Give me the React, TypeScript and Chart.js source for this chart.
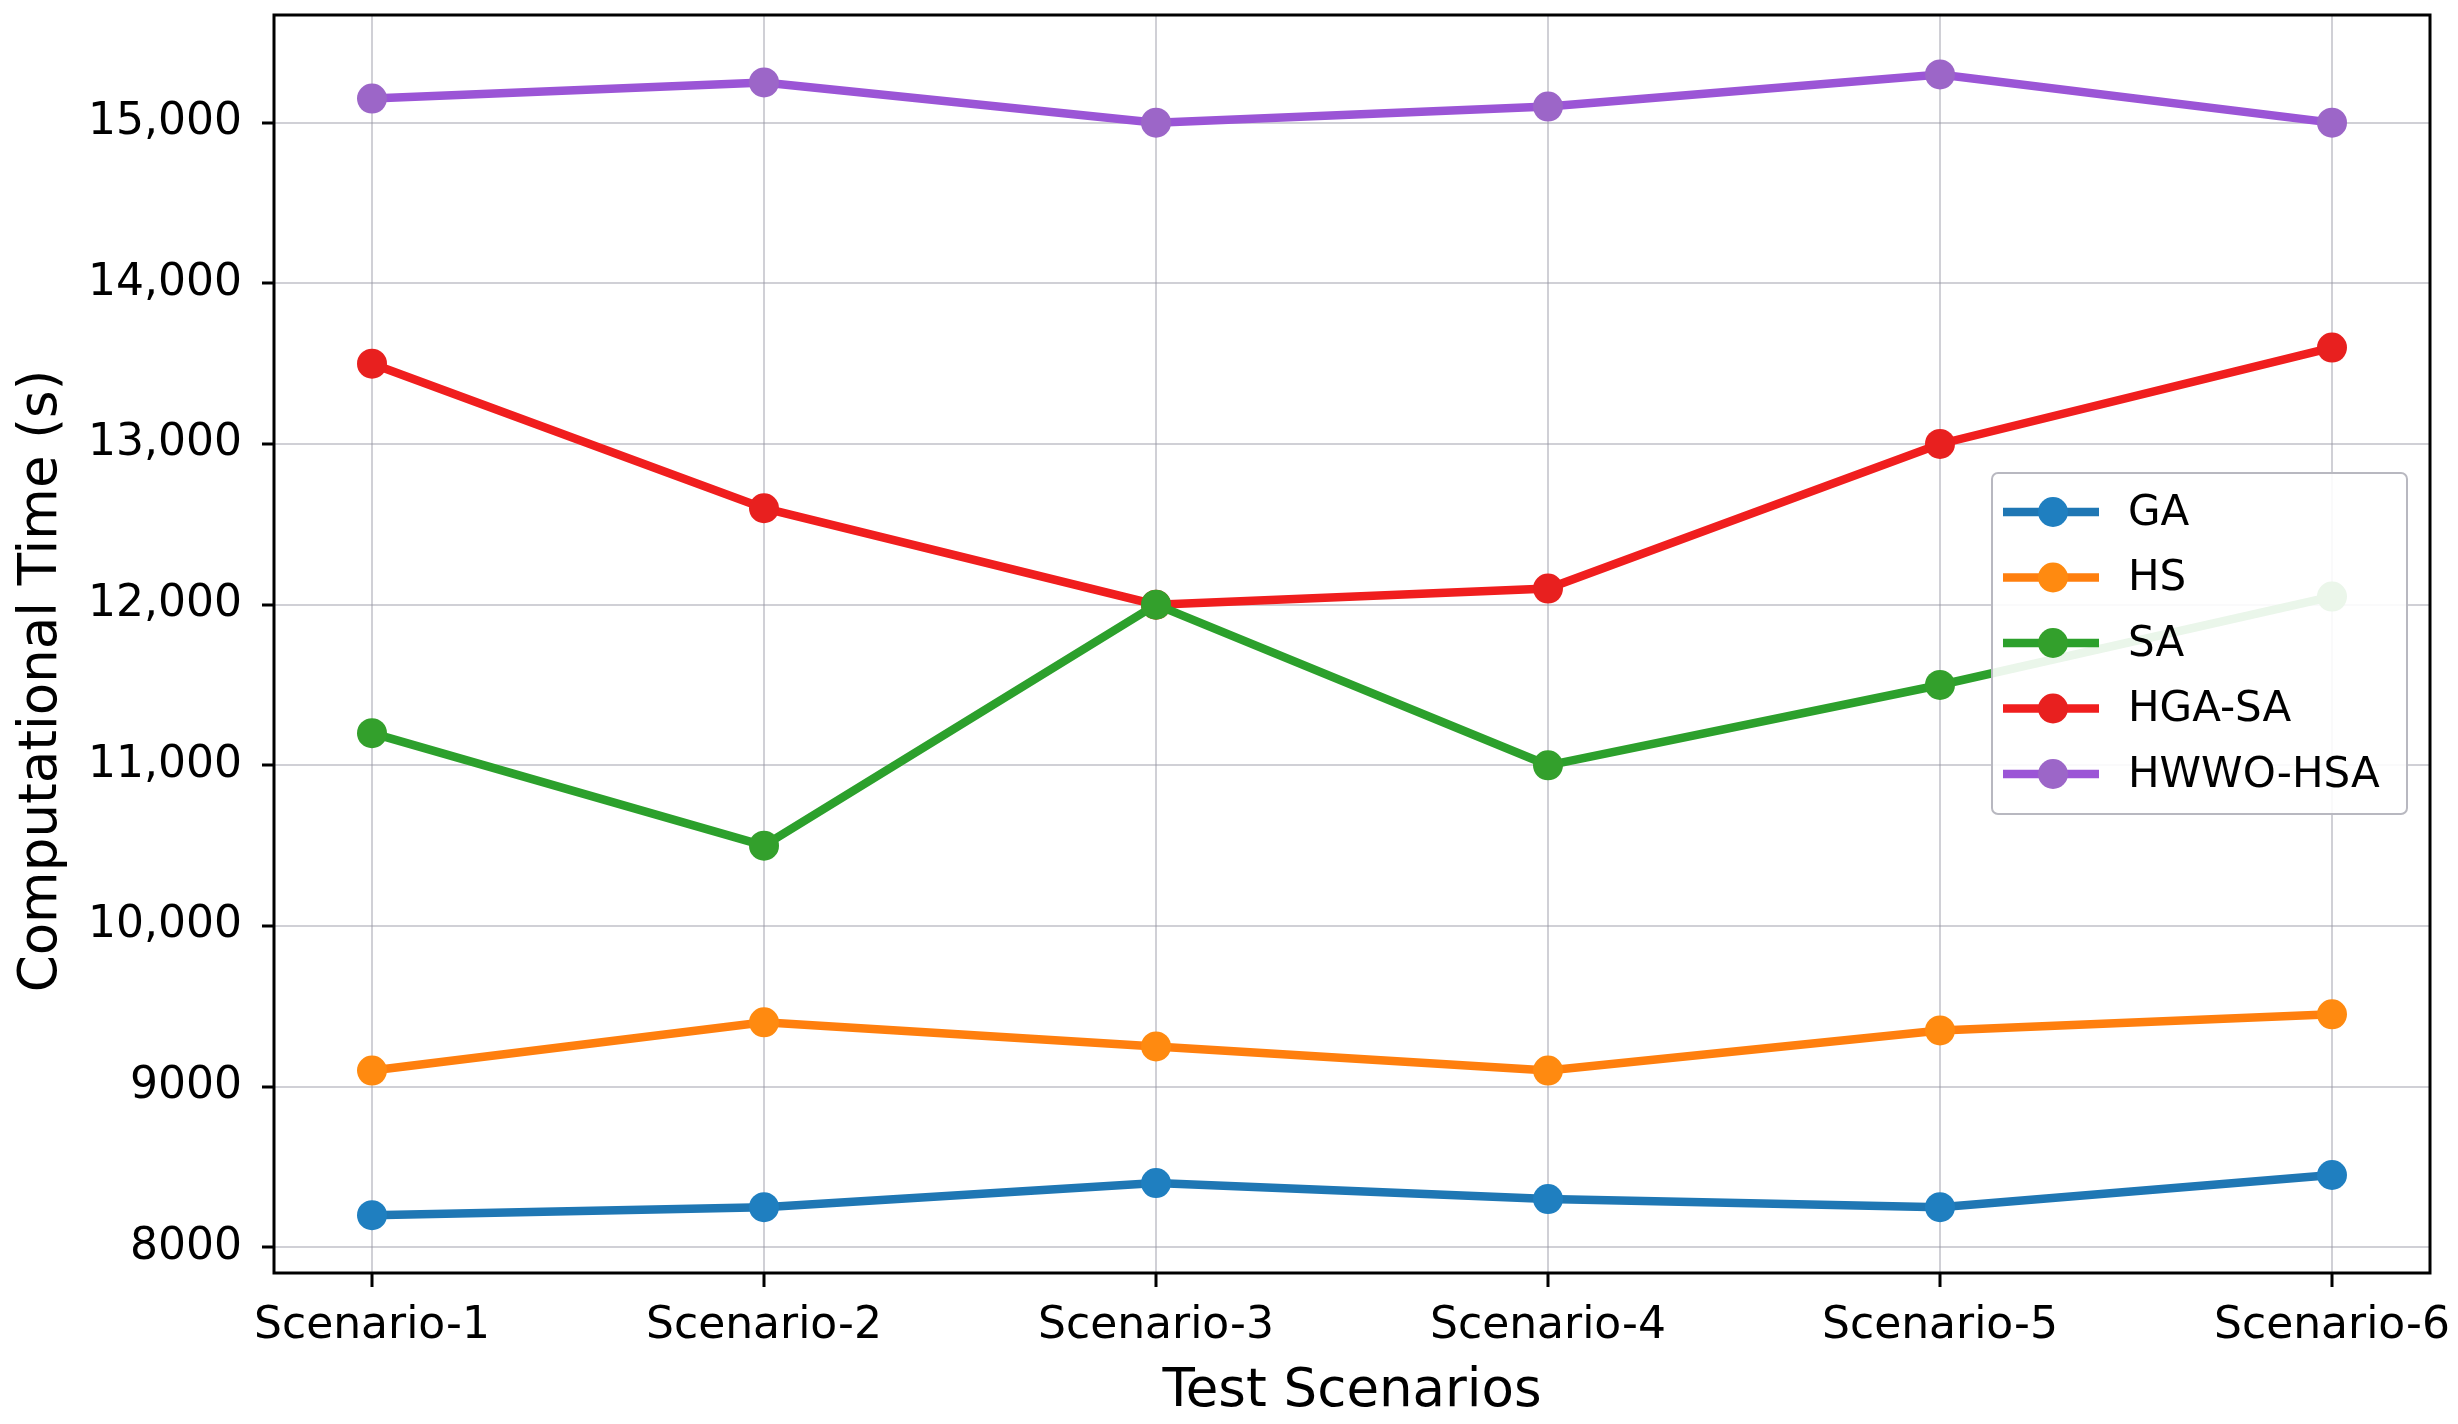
import React, { useEffect, useRef } from "react";
import { Chart, registerables } from "chart.js";

Chart.register(...registerables);

// values
const scenarios = ["Scenario-1", "Scenario-2", "Scenario-3", "Scenario-4", "Scenario-5", "Scenario-6"];
const gaTimes = [8200, 8250, 8400, 8300, 8250, 8450];
const hsTimes = [9100, 9400, 9250, 9100, 9350, 9450];
const saTimes = [11200, 10500, 12000, 11000, 11500, 12050];
const hgaSaTimes = [13500, 12600, 12000, 12100, 13000, 13600];
const hwwoHsaTimes = [15150, 15250, 15000, 15100, 15300, 15000];
const yTicks = [8000, 9000, 10000, 11000, 12000, 13000, 14000, 15000];
const yTitle = "Computational Time (s)";

const series = [
    { label: "GA", data: gaTimes, line: "#1f77b4", dot: "#1f7fc0" },
    { label: "HS", data: hsTimes, line: "#ff7f0e", dot: "#ff8a10" },
    { label: "SA", data: saTimes, line: "#2ca02c", dot: "#33a02c" },
    { label: "HGA-SA", data: hgaSaTimes, line: "#f01e1e", dot: "#e8201f" },
    { label: "HWWO-HSA", data: hwwoHsaTimes, line: "#9b55d6", dot: "#9c66c8" },
];

const FONT = "'DejaVu Sans', sans-serif";

// black frame round the plot area, like matplotlib spines
const framePlugin = {
    id: "frame",
    afterDraw(chart: any) {
        const { ctx, chartArea } = chart;
        ctx.save();
        ctx.strokeStyle = "#000";
        ctx.lineWidth = 3;
        ctx.strokeRect(
            chartArea.left,
            chartArea.top,
            chartArea.right - chartArea.left,
            chartArea.bottom - chartArea.top
        );
        ctx.restore();
    },
};

// y title sits a little below the axis middle in the original
const yTitlePlugin = {
    id: "yTitle",
    afterDraw(chart: any) {
        const { ctx, chartArea } = chart;
        const cy = (chartArea.top + chartArea.bottom) / 2 + 37;
        ctx.save();
        ctx.translate(42, cy);
        ctx.rotate(-Math.PI / 2);
        ctx.font = `53px ${FONT}`;
        ctx.fillStyle = "#000";
        ctx.textAlign = "center";
        ctx.textBaseline = "middle";
        ctx.fillText(yTitle, 0, 0);
        ctx.restore();
    },
};

// legend box inside the plot, drawn over the lines
const insideLegend = {
    id: "insideLegend",
    afterDatasetsDraw(chart: any) {
        const { ctx, chartArea } = chart;
        const sets = chart.data.datasets;
        const boxRight = chartArea.right - 23;
        const boxLeft = boxRight - 415;
        const boxTop = chartArea.top + 458;
        const rowH = 65.5;
        const boxH = 341;
        ctx.save();
        ctx.beginPath();
        ctx.roundRect(boxLeft, boxTop, boxRight - boxLeft, boxH, 6);
        ctx.fillStyle = "rgba(255,255,255,0.9)";
        ctx.fill();
        ctx.strokeStyle = "#b8b8c0";
        ctx.lineWidth = 2;
        ctx.stroke();
        ctx.font = `42px ${FONT}`;
        ctx.textBaseline = "middle";
        ctx.textAlign = "left";
        sets.forEach((ds: any, i: number) => {
            const y = boxTop + 39 + i * rowH;
            ctx.strokeStyle = ds.borderColor;
            ctx.lineWidth = 8.5;
            ctx.beginPath();
            ctx.moveTo(boxLeft + 11, y);
            ctx.lineTo(boxLeft + 107, y);
            ctx.stroke();
            ctx.fillStyle = ds.pointBackgroundColor;
            ctx.beginPath();
            ctx.arc(boxLeft + 61, y, 15, 0, Math.PI * 2);
            ctx.fill();
            ctx.fillStyle = "#000";
            ctx.fillText(ds.label, boxLeft + 136, y + 2);
        });
        ctx.restore();
    },
};

export default function App() {
    const canvasRef = useRef<HTMLCanvasElement | null>(null);

    useEffect(() => {
        if (!canvasRef.current) return;

        const chart = new Chart(canvasRef.current, {
            type: "line",
            data: {
                datasets: series.map((s) => ({
                    label: s.label,
                    data: s.data.map((v, i) => ({ x: i, y: v })),
                    borderColor: s.line,
                    backgroundColor: s.line,
                    pointBackgroundColor: s.dot,
                    pointBorderWidth: 0,
                    pointRadius: 15,
                    borderWidth: 8.5,
                    tension: 0,
                })),
            },
            options: {
                animation: false,
                responsive: true,
                maintainAspectRatio: false,
                devicePixelRatio: 1,
                layout: {
                    padding: { top: 13, right: 28, left: 0, bottom: 0 },
                },
                plugins: {
                    legend: { display: false },
                    tooltip: { enabled: false },
                },
                scales: {
                    x: {
                        type: "linear",
                        min: -0.25,
                        max: 5.25,
                        afterBuildTicks: (scale: any) => {
                            scale.ticks = scenarios.map((_, i) => ({ value: i }));
                        },
                        afterFit: (scale: any) => {
                            scale.height = 151;
                            scale.paddingLeft = 0;
                            scale.paddingRight = 0;
                        },
                        ticks: {
                            color: "#000",
                            font: { family: FONT, size: 44 },
                            padding: 13,
                            maxRotation: 0,
                            autoSkip: false,
                            callback: (value) => scenarios[Number(value)] ?? "",
                        },
                        grid: {
                            color: "rgba(150,150,165,0.45)",
                            lineWidth: 2,
                            tickColor: "#000",
                            tickLength: 14,
                            tickWidth: 3,
                        },
                        border: { display: false },
                        title: {
                            display: true,
                            text: "Test Scenarios",
                            color: "#000",
                            font: { family: FONT, size: 53 },
                            padding: { top: 0, bottom: 0 },
                        },
                    },
                    y: {
                        type: "linear",
                        min: 7840,
                        max: 15670,
                        afterBuildTicks: (scale: any) => {
                            scale.ticks = yTicks.map((v) => ({ value: v }));
                        },
                        afterFit: (scale: any) => {
                            scale.width = 274;
                            scale.paddingTop = 0;
                            scale.paddingBottom = 0;
                        },
                        ticks: {
                            color: "#000",
                            font: { family: FONT, size: 44 },
                            padding: 20,
                            callback: (value) => {
                                const n = Number(value);
                                return n >= 10000 ? n.toLocaleString("en-US") : String(n);
                            },
                        },
                        grid: {
                            color: "rgba(150,150,165,0.45)",
                            lineWidth: 2,
                            tickColor: "#000",
                            tickLength: 12,
                            tickWidth: 3,
                        },
                        border: { display: false },
                        title: { display: false },
                    },
                },
            },
            plugins: [insideLegend, framePlugin, yTitlePlugin],
        });

        return () => chart.destroy();
    }, []);

    return (
        <div
            style={{
                position: "absolute",
                left: 0,
                top: 0,
                width: 2458,
                height: 1424,
                background: "#fff",
            }}
        >
            <canvas ref={canvasRef} />
        </div>
    );
}
